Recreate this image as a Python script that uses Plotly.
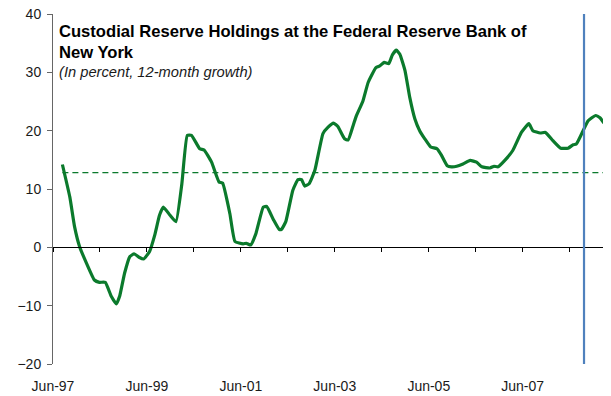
import plotly.graph_objects as go

# ---- data ----
dates = [
    "1997-08-13", "1997-10-10", "1997-11-16", "1997-12-25", "1998-02-16", "1998-04-19",
    "1998-05-28", "1998-07-13", "1998-08-28", "1998-10-07", "1998-11-01", "1998-12-10",
    "1999-01-19", "1999-02-22", "1999-04-01", "1999-05-07", "1999-06-22", "1999-08-01",
    "1999-09-07", "1999-10-07", "1999-11-28", "2000-01-13", "2000-02-28", "2000-04-10",
    "2000-05-13", "2000-07-16", "2000-08-19", "2000-10-16", "2000-12-13", "2001-01-10",
    "2001-03-07", "2001-04-16", "2001-06-19", "2001-07-13", "2001-08-16", "2001-09-25",
    "2001-11-22", "2001-12-19", "2002-02-10", "2002-03-25", "2002-04-13", "2002-05-16",
    "2002-07-10", "2002-08-19", "2002-09-16", "2002-10-10", "2002-11-13", "2002-12-28",
    "2003-03-01", "2003-04-10", "2003-05-22", "2003-06-25", "2003-08-16", "2003-09-13",
    "2003-10-22", "2003-11-15", "2004-01-06", "2004-02-16", "2004-04-16", "2004-05-16",
    "2004-06-19", "2004-07-25", "2004-08-22", "2004-09-22", "2004-10-19", "2004-11-28",
    "2005-01-04", "2005-02-13", "2005-03-22", "2005-05-01", "2005-06-16", "2005-08-04",
    "2005-09-07", "2005-10-22", "2005-11-25", "2006-01-04", "2006-02-22", "2006-04-19",
    "2006-06-07", "2006-07-19", "2006-09-19", "2006-10-22", "2006-11-22", "2007-01-13",
    "2007-03-16", "2007-05-22", "2007-07-19", "2007-08-19", "2007-10-16", "2007-11-25",
    "2008-01-22", "2008-03-22", "2008-05-19", "2008-06-28", "2008-07-22", "2008-09-13",
    "2008-10-22", "2008-12-19", "2009-01-22", "2009-02-22",
]
growth = [
    14.2, 8.6, 3.5, 0.1, -2.7, -5.6,
    -6.0, -6.0, -8.4, -9.7, -8.4, -4.4,
    -1.6, -1.1, -1.7, -2.0, -0.7, 2.1,
    5.5, 6.9, 5.5, 4.4, 10.9, 19.2,
    19.2, 16.9, 16.7, 14.6, 11.2, 11.0,
    5.8, 1.0, 0.6, 0.7, 0.4, 2.3,
    6.9, 7.0, 4.7, 3.1, 3.1, 4.4,
    9.8, 11.6, 11.6, 10.5, 10.9, 13.2,
    19.5, 20.6, 21.3, 20.7, 18.6, 18.4,
    20.9, 22.5, 25.1, 28.3, 30.8, 31.1,
    31.7, 31.5, 33.0, 33.8, 33.1, 30.3,
    25.7, 22.0, 20.0, 18.6, 17.2, 16.9,
    15.8, 14.0, 13.8, 13.9, 14.3, 14.9,
    14.6, 13.8, 13.6, 13.9, 13.8, 14.9,
    16.6, 19.7, 21.2, 20.0, 19.6, 19.7,
    18.3, 17.0, 17.0, 17.6, 17.7, 20.0,
    21.7, 22.6, 22.2, 21.3,
]
average_value = 12.8
average_span = ["1997-08-13", "2009-02-22"]
event_date = "2008-09-20"

year_ticks = ["%d-06-01" % y for y in range(1997, 2009)]
label_ticks = ["%d-06-01" % y for y in range(1997, 2009, 2)]
label_text = ["Jun-97", "Jun-99", "Jun-01", "Jun-03", "Jun-05", "Jun-07"]
y_ticks = [-20, -10, 0, 10, 20, 30, 40]

x_range = ["1997-06-01", "2009-04-10"]
y_range = [-20, 40]

FONT = "Arial, 'Liberation Sans', sans-serif"
GREEN = "#0b7a2c"

fig = go.Figure()
fig.add_trace(go.Scatter(
    x=average_span, y=[average_value, average_value], mode="lines",
    line=dict(color=GREEN, width=1.3, dash="6px,4px"),
    xaxis="x2", yaxis="y", hoverinfo="skip", showlegend=False,
))
fig.add_trace(go.Scatter(
    x=dates, y=growth, mode="lines",
    line=dict(color=GREEN, width=3.2, shape="spline", smoothing=0.4),
    xaxis="x2", yaxis="y", showlegend=False,
))

fig.add_shape(type="line", xref="x", yref="y domain", x0=event_date, x1=event_date,
              y0=0, y1=1, line=dict(color="#4f81bd", width=2.2), layer="above")

zero_pos = (0 - y_range[0]) / (y_range[1] - y_range[0])

# the page body has an 8px margin, so the figure is 8px smaller and margins shifted
fig.update_layout(
    width=603, height=388,
    margin=dict(l=45, r=1, t=6, b=32, autoexpand=False),
    paper_bgcolor="white", plot_bgcolor="white",
    font=dict(family=FONT, size=14, color="#1a1a1a"),
    showlegend=False,
    xaxis=dict(
        type="date", range=x_range, showgrid=False, zeroline=False,
        showline=False, ticks="", tickvals=label_ticks, ticktext=label_text,
        tickfont=dict(size=14, color="#1a1a1a"), ticklabelstandoff=12,
        automargin=False, ticklabeloverflow="allow",
    ),
    xaxis2=dict(
        type="date", matches="x", overlaying="x", anchor="free", position=zero_pos,
        showgrid=False, zeroline=False, showline=True, linecolor="black", linewidth=1,
        ticks="outside", ticklen=4, tickwidth=1, tickcolor="black",
        tickvals=year_ticks, showticklabels=False,
    ),
    yaxis=dict(
        range=y_range, tickvals=y_ticks, showgrid=False, zeroline=False,
        showline=True, linecolor="#666666", linewidth=1,
        ticks="outside", ticklen=5, tickcolor="#666666",
        tickfont=dict(size=14, color="#1a1a1a"), ticklabelstandoff=3,
        automargin=False, ticklabeloverflow="allow",
    ),
    annotations=[
        dict(xref="paper", yref="paper", x=0.007, y=0.9486, xanchor="left", yanchor="middle",
             text="<b>Custodial Reserve Holdings at the Federal Reserve Bank of</b>",
             showarrow=False, font=dict(size=16.6, color="black")),
        dict(xref="paper", yref="paper", x=0.007, y=0.8886, xanchor="left", yanchor="middle",
             text="<b>New York</b>", showarrow=False, font=dict(size=16.6, color="black")),
        dict(xref="paper", yref="paper", x=0.007, y=0.8329, xanchor="left", yanchor="middle",
             text="<i>(In percent, 12-month growth)</i>", showarrow=False,
             font=dict(size=14.7, color="#1a1a1a")),
    ],
)

fig.write_html("out.html")
